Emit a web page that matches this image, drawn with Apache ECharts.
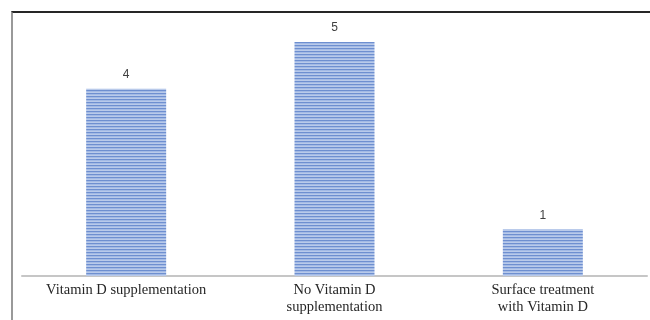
<!DOCTYPE html>
<html>
<head>
<meta charset="utf-8">
<script src="https://cdn.jsdelivr.net/npm/echarts@6/dist/echarts.min.js"></script>
<style>
html,body{margin:0;padding:0;background:#fff;}
#wrap{position:relative;width:650px;height:320px;overflow:hidden;}
#frame{position:absolute;left:11px;top:11px;width:660px;height:330px;border-top:2px solid #262626;border-left:2px solid #999;box-sizing:border-box;}
#chart{position:absolute;left:0;top:0;width:650px;height:320px;}
</style>
</head>
<body>
<div id="wrap"><div id="frame"></div><div id="chart"></div></div>
<script>
const categories = ['Vitamin D supplementation', 'No Vitamin D\nsupplementation', 'Surface treatment\nwith Vitamin D'];
const values = [4, 5, 1];

function stripePattern() {
  const c = document.createElement('canvas');
  c.width = 4; c.height = 3;
  const g = c.getContext('2d');
  const rows = ['#6e8fd0', '#a3bae5', '#b9caea'];
  rows.forEach((col, i) => { g.fillStyle = col; g.fillRect(0, i, 4, 1); });
  return c;
}

const chart = echarts.init(document.getElementById('chart'), null, {renderer: 'canvas'});
chart.setOption({
  animation: false,
  grid: {left: 22, right: 3, top: 42, bottom: 44},
  xAxis: {
    type: 'category', data: categories,
    axisLine: {show: true, lineStyle: {color: '#c6c6c6', width: 2}},
    axisTick: {show: false},
    axisLabel: {
      margin: 6, color: '#262626', fontFamily: 'Liberation Serif', fontSize: 14.5, lineHeight: 17,
      interval: 0
    }
  },
  yAxis: {type: 'value', min: 0, max: 5, show: false},
  series: [{
    type: 'bar',
    data: values,
    barWidth: 80,
    itemStyle: {color: {image: stripePattern(), repeat: 'repeat'}},
    label: {
      show: true, position: 'top', distance: 8,
      color: '#404040', fontFamily: 'Liberation Sans', fontSize: 12
    }
  }]
});
</script>
</body>
</html>
